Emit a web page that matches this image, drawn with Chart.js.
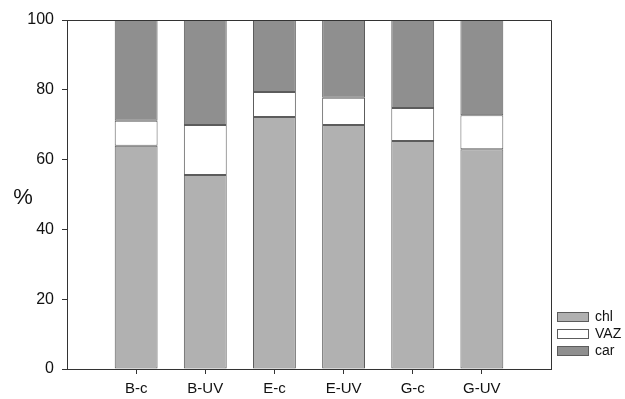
<!DOCTYPE html>
<html>
<head>
<meta charset="utf-8">
<script src="https://cdn.jsdelivr.net/npm/chart.js@4.4.1/dist/chart.umd.min.js"></script>
<style>
  html, body { margin: 0; padding: 0; background: #fff; }
  #wrap { width: 625px; height: 399px; }
</style>
</head>
<body>
<div id="wrap"><canvas id="c" width="625" height="399"></canvas></div>
<script>
// Pigment composition (% of total) per treatment
const categories = ['B-c', 'B-UV', 'E-c', 'E-UV', 'G-c', 'G-UV'];
const chl = [64.0, 55.6, 72.2, 69.9, 65.3, 63.0];
const vaz = [7.1, 14.3, 7.2, 7.8, 9.5, 9.7];
const car = [28.9, 30.1, 20.6, 22.3, 25.2, 27.3];
const yTicks = [0, 20, 40, 60, 80, 100];

const seriesNames = ['chl', 'VAZ', 'car'];
const fills = ['#b1b1b1', '#ffffff', '#8f8f8f'];
const edge = '#5c5c5c';
const fontFamily = "'Liberation Sans', Arial, sans-serif";

// empty slots at both ends leave a blank category-width margin inside the frame
const labels = ['', ...categories, ''];
const pad = arr => [null, ...arr, null];

const datasets = [chl, vaz, car].map((vals, i) => ({
  label: seriesNames[i],
  data: pad(vals),
  backgroundColor: fills[i],
  borderColor: edge,
  borderWidth: 1,
  borderSkipped: false,
  barPercentage: 0.62,
  categoryPercentage: 1.0
}));

// closes the plot frame on the top and right sides
const framePlugin = {
  id: 'frame',
  afterDraw(chart) {
    const { ctx, chartArea: a } = chart;
    ctx.save();
    ctx.strokeStyle = '#333';
    ctx.lineWidth = 1;
    ctx.beginPath();
    ctx.moveTo(a.left, a.top + 0.5);
    ctx.lineTo(a.right + 0.5, a.top + 0.5);
    ctx.lineTo(a.right + 0.5, a.bottom);
    ctx.stroke();
    ctx.restore();
  }
};

// unrotated "%" axis title and the small legend beside the frame
const annotatePlugin = {
  id: 'annotate',
  afterDraw(chart) {
    const { ctx, chartArea: a } = chart;
    ctx.save();
    ctx.fillStyle = '#111';
    ctx.font = '22px ' + fontFamily;
    ctx.textAlign = 'center';
    ctx.textBaseline = 'middle';
    ctx.fillText('%', 23, (a.top + a.bottom) / 2 + 3);

    const bx = a.right + 6, bw = 31, bh = 9, step = 17;
    const y0 = a.bottom - 57;
    ctx.font = '14px ' + fontFamily;
    ctx.textAlign = 'left';
    seriesNames.forEach((name, i) => {
      const y = y0 + i * step;
      ctx.fillStyle = fills[i];
      ctx.fillRect(bx, y, bw, bh);
      ctx.strokeStyle = edge;
      ctx.lineWidth = 1;
      ctx.strokeRect(bx + 0.5, y + 0.5, bw, bh);
      ctx.fillStyle = '#111';
      ctx.fillText(name, bx + 38, y + bh / 2 + 1);
    });
    ctx.restore();
  }
};

new Chart(document.getElementById('c'), {
  type: 'bar',
  data: { labels, datasets },
  options: {
    responsive: false,
    animation: false,
    events: [],
    layout: { padding: { left: 0, right: 74, top: 20, bottom: 0 } },
    plugins: { legend: { display: false }, tooltip: { enabled: false } },
    scales: {
      x: {
        stacked: true,
        offset: false,
        border: { color: '#333', width: 1 },
        grid: {
          display: true,
          offset: false,
          drawOnChartArea: false,
          tickLength: 5,
          tickColor: ctx => (ctx.index === 0 || ctx.index === labels.length - 1) ? 'rgba(0,0,0,0)' : '#333'
        },
        ticks: { color: '#111', font: { family: fontFamily, size: 15 }, padding: 6, maxRotation: 0, autoSkip: false },
        afterFit(scale) { scale.height = 30; }
      },
      y: {
        stacked: true,
        min: 0,
        max: 100,
        border: { color: '#333', width: 1 },
        grid: { display: true, drawOnChartArea: false, tickLength: 5, tickColor: '#333' },
        afterBuildTicks(scale) { scale.ticks = yTicks.map(v => ({ value: v })); },
        ticks: { color: '#111', font: { family: fontFamily, size: 16 }, padding: 8 },
        afterFit(scale) { scale.width = 67; }
      }
    }
  },
  plugins: [framePlugin, annotatePlugin]
});
</script>
</body>
</html>
